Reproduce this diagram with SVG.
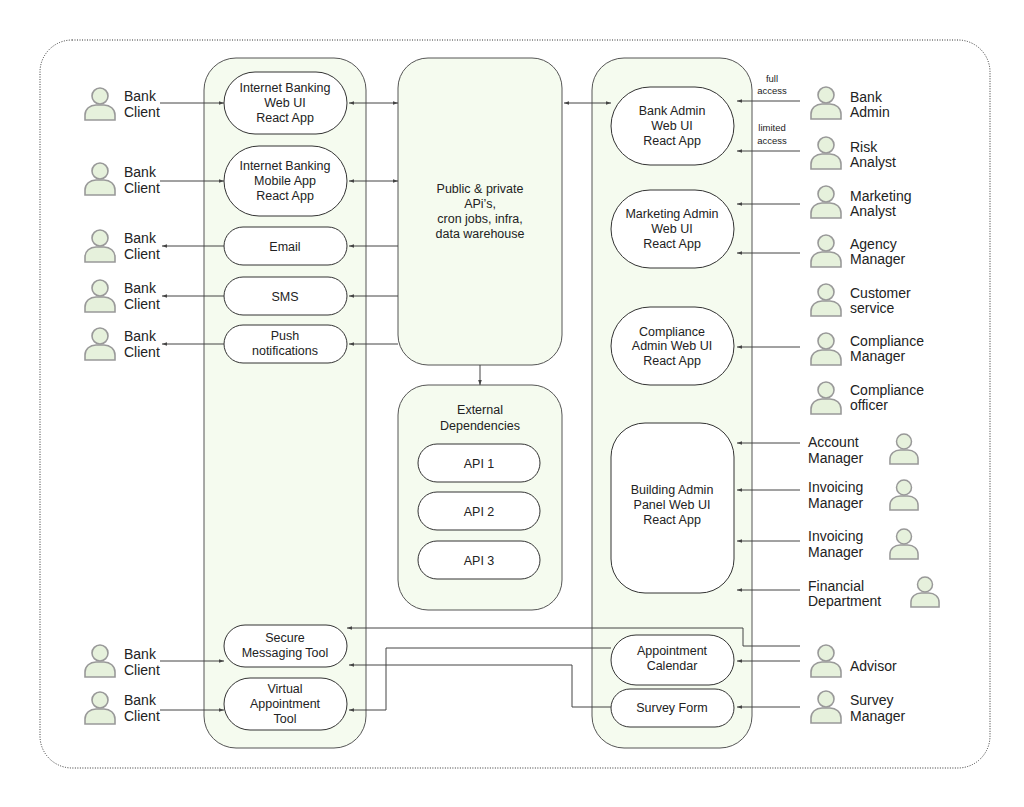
<svg xmlns="http://www.w3.org/2000/svg" width="1024" height="807" viewBox="0 0 1024 807">
<defs>
<style>
text{font-family:"Liberation Sans",Arial,sans-serif;font-size:12.5px;fill:#222}
.c{text-anchor:middle}
.s{font-size:9.5px}
#actors text{font-size:14px}
.cont{fill:#f5fbef;stroke:#555;stroke-width:1}
.node{fill:#fff;stroke:#333;stroke-width:1}
.ln{fill:none;stroke:#444;stroke-width:1}
.head{fill:#e6f1dc;stroke:#999;stroke-width:1.6}
</style>
<marker id="a" viewBox="0 0 6 6" refX="6" refY="3" markerWidth="5" markerHeight="5" orient="auto-start-reverse"><path d="M0,0.8L6,3L0,5.2z" fill="#444"/></marker>
<symbol id="p" viewBox="0 0 32 34" overflow="visible"><circle cx="16" cy="9" r="8" class="head"/><path d="M1,33V28C1,22 6,18 12,18H20C26,18 31,22 31,28V33Z" class="head"/></symbol>
</defs>
<rect x="40" y="40" width="950" height="728" rx="32" fill="#fff" stroke="#333" stroke-dasharray="1,1.5"/>
<g id="containers">
<rect class="cont" x="204" y="58" width="162" height="690" rx="32"/>
<rect class="cont" x="398" y="58" width="164" height="307" rx="30"/>
<rect class="cont" x="398" y="385" width="164" height="225" rx="30"/>
<rect class="cont" x="592" y="58" width="160" height="690" rx="32"/>
</g>
<g id="n-ibweb"><rect class="node" x="224" y="72" width="123" height="62" rx="31"/><text class="c" x="285" y="92">Internet Banking</text><text class="c" x="285" y="107">Web UI</text><text class="c" x="285" y="122">React App</text></g>
<g id="n-ibmob"><rect class="node" x="224" y="146" width="123" height="70" rx="35"/><text class="c" x="285" y="170">Internet Banking</text><text class="c" x="285" y="185">Mobile App</text><text class="c" x="285" y="200">React App</text></g>
<g id="n-email"><rect class="node" x="224" y="227" width="123" height="38" rx="19"/><text class="c" x="285" y="251">Email</text></g>
<g id="n-sms"><rect class="node" x="224" y="277" width="123" height="38" rx="19"/><text class="c" x="285" y="301">SMS</text></g>
<g id="n-push"><rect class="node" x="224" y="325" width="123" height="38" rx="19"/><text class="c" x="285" y="340">Push</text><text class="c" x="285" y="355">notifications</text></g>
<g id="n-sec"><rect class="node" x="224" y="625" width="123" height="42" rx="21"/><text class="c" x="285" y="642">Secure</text><text class="c" x="285" y="657">Messaging Tool</text></g>
<g id="n-virt"><rect class="node" x="224" y="678" width="123" height="52" rx="26"/><text class="c" x="285" y="693">Virtual</text><text class="c" x="285" y="708">Appointment</text><text class="c" x="285" y="723">Tool</text></g>
<g id="n-api"><text class="c" x="480" y="193">Public &amp; private</text><text class="c" x="480" y="208">APi’s,</text><text class="c" x="480" y="223">cron jobs, infra,</text><text class="c" x="480" y="238">data warehouse</text></g>
<g id="n-ext"><text class="c" x="480" y="414">External</text><text class="c" x="480" y="430">Dependencies</text></g>
<g id="n-api1"><rect class="node" x="418" y="444" width="122" height="38" rx="19"/><text class="c" x="479" y="468">API 1</text></g>
<g id="n-api2"><rect class="node" x="418" y="492" width="122" height="38" rx="19"/><text class="c" x="479" y="516">API 2</text></g>
<g id="n-api3"><rect class="node" x="418" y="541" width="122" height="38" rx="19"/><text class="c" x="479" y="565">API 3</text></g>
<g id="n-bankadmin"><rect class="node" x="611" y="87" width="123" height="78" rx="39"/><text class="c" x="672" y="115">Bank Admin</text><text class="c" x="672" y="130">Web UI</text><text class="c" x="672" y="145">React App</text></g>
<g id="n-mkt"><rect class="node" x="611" y="190" width="123" height="78" rx="39"/><text class="c" x="672" y="218">Marketing Admin</text><text class="c" x="672" y="233">Web UI</text><text class="c" x="672" y="248">React App</text></g>
<g id="n-comp"><rect class="node" x="611" y="307" width="123" height="78" rx="39"/><text class="c" x="672" y="336">Compliance</text><text class="c" x="672" y="350">Admin Web UI</text><text class="c" x="672" y="365">React App</text></g>
<g id="n-build"><rect class="node" x="611" y="423" width="123" height="170" rx="34"/><text class="c" x="672" y="494">Building Admin</text><text class="c" x="672" y="509">Panel Web UI</text><text class="c" x="672" y="524">React App</text></g>
<g id="n-cal"><rect class="node" x="611" y="635" width="123" height="50" rx="25"/><text class="c" x="672" y="655">Appointment</text><text class="c" x="672" y="670">Calendar</text></g>
<g id="n-survey"><rect class="node" x="611" y="689" width="123" height="38" rx="19"/><text class="c" x="672" y="712">Survey Form</text></g>
<g id="actors">
<use href="#p" x="84" y="87" width="32" height="34"/><text x="124" y="101">Bank</text><text x="124" y="117">Client</text>
<use href="#p" x="84" y="162" width="32" height="34"/><text x="124" y="177">Bank</text><text x="124" y="193">Client</text>
<use href="#p" x="84" y="229" width="32" height="34"/><text x="124" y="243">Bank</text><text x="124" y="259">Client</text>
<use href="#p" x="84" y="279" width="32" height="34"/><text x="124" y="293">Bank</text><text x="124" y="309">Client</text>
<use href="#p" x="84" y="327" width="32" height="34"/><text x="124" y="341">Bank</text><text x="124" y="357">Client</text>
<use href="#p" x="84" y="644" width="32" height="34"/><text x="124" y="659">Bank</text><text x="124" y="675">Client</text>
<use href="#p" x="84" y="691" width="32" height="34"/><text x="124" y="705">Bank</text><text x="124" y="721">Client</text>
<use href="#p" x="810" y="86" width="32" height="34"/><text x="850" y="102">Bank</text><text x="850" y="117">Admin</text>
<use href="#p" x="810" y="136" width="32" height="34"/><text x="850" y="152">Risk</text><text x="850" y="167">Analyst</text>
<use href="#p" x="810" y="185" width="32" height="34"/><text x="850" y="201">Marketing</text><text x="850" y="216">Analyst</text>
<use href="#p" x="810" y="234" width="32" height="34"/><text x="850" y="249">Agency</text><text x="850" y="264">Manager</text>
<use href="#p" x="810" y="283" width="32" height="34"/><text x="850" y="298">Customer</text><text x="850" y="313">service</text>
<use href="#p" x="810" y="332" width="32" height="34"/><text x="850" y="346">Compliance</text><text x="850" y="361">Manager</text>
<use href="#p" x="810" y="381" width="32" height="34"/><text x="850" y="395">Compliance</text><text x="850" y="410">officer</text>
<use href="#p" x="889" y="432" width="30" height="34"/><text x="808" y="447">Account</text><text x="808" y="463">Manager</text>
<use href="#p" x="889" y="478" width="30" height="34"/><text x="808" y="492">Invoicing</text><text x="808" y="508">Manager</text>
<use href="#p" x="889" y="527" width="30" height="34"/><text x="808" y="541">Invoicing</text><text x="808" y="557">Manager</text>
<use href="#p" x="910" y="575" width="30" height="34"/><text x="808" y="591">Financial</text><text x="808" y="606">Department</text>
<use href="#p" x="810" y="644" width="32" height="34"/><text x="850" y="671">Advisor</text>
<use href="#p" x="810" y="690" width="32" height="34"/><text x="850" y="705">Survey</text><text x="850" y="721">Manager</text>
</g>
<g id="connectors" class="ln">
<path class="ln" d="M160,103H224" marker-end="url(#a)"/>
<path class="ln" d="M160,181H224" marker-end="url(#a)"/>
<path class="ln" d="M224,246H162" marker-end="url(#a)"/>
<path class="ln" d="M224,296H162" marker-end="url(#a)"/>
<path class="ln" d="M224,344H162" marker-end="url(#a)"/>
<path class="ln" d="M160,661H224" marker-end="url(#a)"/>
<path class="ln" d="M160,710H224" marker-end="url(#a)"/>
<path class="ln" d="M349,103H398" marker-start="url(#a)" marker-end="url(#a)"/>
<path class="ln" d="M349,181H398" marker-start="url(#a)" marker-end="url(#a)"/>
<path class="ln" d="M398,246H349" marker-end="url(#a)"/>
<path class="ln" d="M398,296H349" marker-end="url(#a)"/>
<path class="ln" d="M398,344H349" marker-end="url(#a)"/>
<path class="ln" d="M564,103H611" marker-start="url(#a)" marker-end="url(#a)"/>
<path class="ln" d="M480,365V385" marker-end="url(#a)"/>
<path class="ln" d="M800,101H737" marker-end="url(#a)"/>
<path class="ln" d="M800,151H737" marker-end="url(#a)"/>
<path class="ln" d="M800,204H737" marker-end="url(#a)"/>
<path class="ln" d="M800,253H737" marker-end="url(#a)"/>
<path class="ln" d="M800,347H737" marker-end="url(#a)"/>
<path class="ln" d="M800,443H737" marker-end="url(#a)"/>
<path class="ln" d="M800,490H737" marker-end="url(#a)"/>
<path class="ln" d="M800,541H737" marker-end="url(#a)"/>
<path class="ln" d="M800,590H737" marker-end="url(#a)"/>
<path class="ln" d="M800,661H737" marker-end="url(#a)"/>
<path class="ln" d="M800,707H737" marker-end="url(#a)"/>
<path class="ln" d="M800,646H743V628H347" marker-end="url(#a)"/>
<path class="ln" d="M611,648H386V710H349" marker-end="url(#a)"/>
<path class="ln" d="M611,707H572V665H349" marker-end="url(#a)"/>
</g>
<g id="labels"><text class="c s" x="772" y="82">full</text><text class="c s" x="772" y="94">access</text><text class="c s" x="772" y="131">limited</text><text class="c s" x="772" y="144">access</text></g>
</svg>
